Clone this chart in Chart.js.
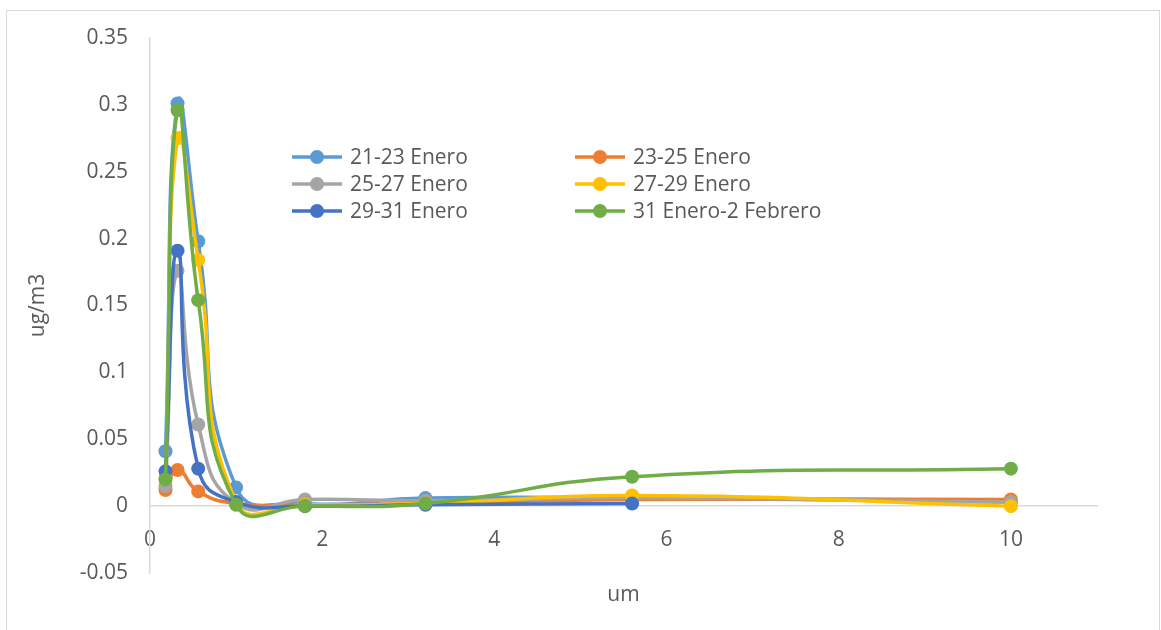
<!DOCTYPE html>
<html>
<head>
<meta charset="utf-8">
<script src="https://cdn.jsdelivr.net/npm/chart.js@4/dist/chart.umd.min.js"></script>
<style>
  html, body { margin: 0; padding: 0; background: #ffffff; overflow: hidden; }
  #wrap { width: 1161px; height: 630px; position: relative; }
</style>
</head>
<body>
<div id="wrap"><canvas id="chart" width="1161" height="630"></canvas></div>
<script>
// Particle cut sizes (um) and concentrations (ug/m3) per sampling period
const sizes = [0.18, 0.32, 0.56, 1.0, 1.8, 3.2, 5.6, 10];

const seriesNames = [
  '21-23 Enero',
  '23-25 Enero',
  '25-27 Enero',
  '27-29 Enero',
  '29-31 Enero',
  '31 Enero-2 Febrero'
];

const enero21_23 = [0.041, 0.301, 0.198, 0.014, 0.002, 0.006, 0.006, 0.003];
const enero23_25 = [0.012, 0.027, 0.011, 0.002, 0.001, 0.002, 0.005, 0.005];
const enero25_27 = [0.015, 0.176, 0.061, 0.002, 0.005, 0.004, 0.006, 0.003];
const enero27_29 = [0.021, 0.275, 0.184, 0.003, 0.001, 0.002, 0.008, 0.000];
const enero29_31 = [0.026, 0.191, 0.028, 0.003, 0.000, 0.001, 0.002];
const enero31_feb2 = [0.020, 0.296, 0.154, 0.001, 0.000, 0.002, 0.022, 0.028];

const seriesValues = [enero21_23, enero23_25, enero25_27, enero27_29, enero29_31, enero31_feb2];
const seriesColors = ['#5B9BD5', '#ED7D31', '#A5A5A5', '#FFC000', '#4472C4', '#70AD47'];

const xTicks = [0, 2, 4, 6, 8, 10];
const yTicks = ['-0.05', '0', '0.05', '0.1', '0.15', '0.2', '0.25', '0.3', '0.35'];

const TEXT = '#595959';
const AXIS = '#d9d9d9';
const FONT = "'Open Sans', 'Liberation Sans', sans-serif";
const FONT_SIZE = 21;

const datasets = seriesValues.map((vals, i) => ({
  label: seriesNames[i],
  data: vals.map((v, j) => ({ x: sizes[j], y: v })),
  borderColor: seriesColors[i],
  backgroundColor: seriesColors[i],
  pointBackgroundColor: seriesColors[i],
  pointBorderColor: seriesColors[i],
  pointBorderWidth: 0,
  pointRadius: 7,
  borderWidth: 3.5,
  showLine: true,
  tension: 0.5,
  order: seriesValues.length - i
}));

// Outer frame, x-axis title and the two-column legend
const decorations = {
  id: 'decorations',
  beforeDraw(chart) {
    const ctx = chart.ctx;
    ctx.save();
    ctx.fillStyle = '#ffffff';
    ctx.fillRect(0, 0, chart.width, chart.height);
    ctx.strokeStyle = AXIS;
    ctx.lineWidth = 1;
    ctx.strokeRect(6.5, 10.5, 1153, 700);
    ctx.restore();
  },
  afterDraw(chart) {
    const ctx = chart.ctx;
    const area = chart.chartArea;
    ctx.save();
    ctx.fillStyle = TEXT;
    ctx.font = FONT_SIZE + "px " + FONT;
    ctx.textAlign = 'center';
    ctx.textBaseline = 'middle';
    ctx.fillText('um', (area.left + area.right) / 2, 595);

    const colX = [292, 575];
    const rowY = [157, 184, 211];
    ctx.textAlign = 'left';
    chart.data.datasets.forEach((ds, i) => {
      const x = colX[i % 2];
      const y = rowY[Math.floor(i / 2)];
      ctx.strokeStyle = ds.borderColor;
      ctx.lineWidth = 3.5;
      ctx.beginPath();
      ctx.moveTo(x, y);
      ctx.lineTo(x + 50, y);
      ctx.stroke();
      ctx.fillStyle = ds.borderColor;
      ctx.beginPath();
      ctx.arc(x + 25, y, 7, 0, Math.PI * 2);
      ctx.fill();
      ctx.fillStyle = TEXT;
      ctx.fillText(ds.label, x + 58, y + 1);
    });
    ctx.restore();
  }
};

new Chart(document.getElementById('chart'), {
  type: 'scatter',
  data: { datasets },
  options: {
    responsive: false,
    animation: false,
    layout: { padding: { left: 0, top: 38, right: 64, bottom: 57 } },
    plugins: {
      legend: { display: false },
      tooltip: { enabled: false }
    },
    scales: {
      x: {
        type: 'linear',
        min: 0,
        max: 11,
        position: { y: 0 },
        grid: { display: false, drawTicks: false },
        border: { display: true, color: AXIS, width: 1.5 },
        afterBuildTicks(scale) { scale.ticks = xTicks.map(v => ({ value: v })); },
        ticks: {
          padding: 21,
          color: TEXT,
          font: { size: FONT_SIZE, family: FONT },
          maxRotation: 0,
          callback: v => String(v)
        }
      },
      y: {
        type: 'linear',
        min: -0.05,
        max: 0.35,
        grid: { display: false, drawTicks: false },
        border: { display: true, color: AXIS, width: 1.5 },
        afterFit(scale) { scale.width = 150; },
        afterBuildTicks(scale) { scale.ticks = yTicks.map(t => ({ value: parseFloat(t) })); },
        ticks: {
          padding: 22,
          color: TEXT,
          font: { size: FONT_SIZE, family: FONT },
          callback: (v, i) => yTicks[i]
        },
        title: {
          display: true,
          text: 'ug/m3',
          color: TEXT,
          font: { size: FONT_SIZE, family: FONT },
          padding: { top: 25, bottom: 0 }
        }
      }
    }
  },
  plugins: [decorations]
});
</script>
</body>
</html>
